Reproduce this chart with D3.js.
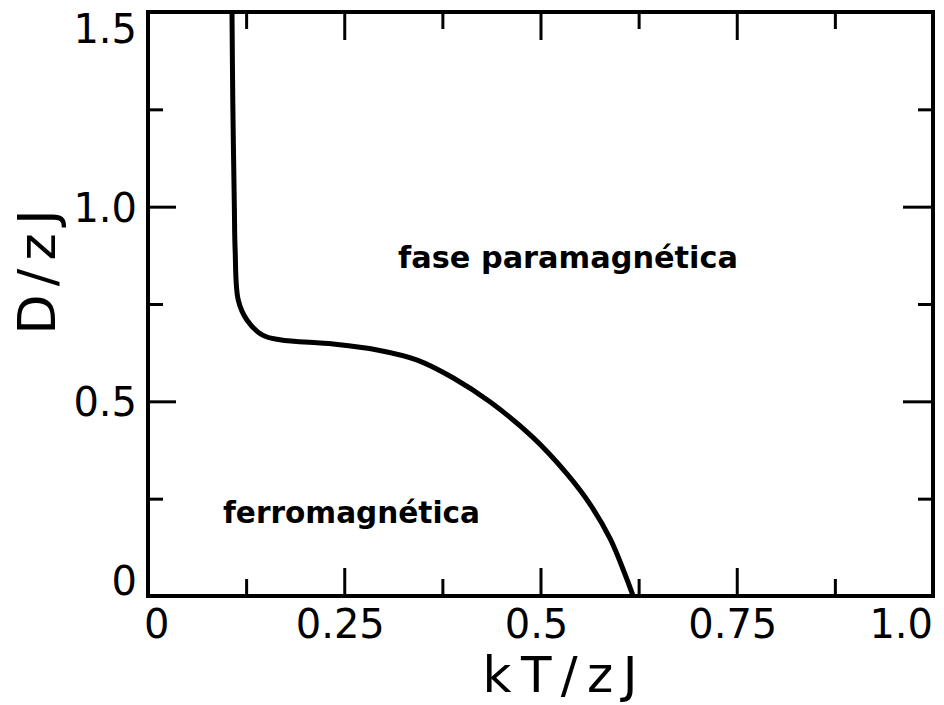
<!DOCTYPE html>
<html>
<head>
<meta charset="utf-8">
<script src="https://cdn.jsdelivr.net/npm/d3@7/dist/d3.min.js"></script>
<style>
  html, body { margin: 0; padding: 0; background: #fff; }
  svg { display: block; }
</style>
</head>
<body>
<div id="chart"></div>
<script>
// tick values and labels
const xMajor = [0, 0.25, 0.5, 0.75, 1.0];
const xLabels = ['0', '0.25', '0.5', '0.75', '1.0'];
const xMinor = [0.125, 0.375, 0.625, 0.875];
const yMajor = [0, 0.5, 1.0, 1.5];
const yLabels = ['0', '0.5', '1.0', '1.5'];
const yMinor = [0.25, 0.75, 1.25];

// phase boundary
const boundaryKT = [0.107, 0.108, 0.110, 0.111, 0.115, 0.126, 0.146, 0.168, 0.236, 0.292, 0.343, 0.389, 0.436, 0.490, 0.534, 0.563, 0.589, 0.608, 0.618];
const boundaryD  = [1.500, 1.274, 1.000, 0.889, 0.760, 0.709, 0.670, 0.658, 0.647, 0.632, 0.606, 0.560, 0.498, 0.408, 0.313, 0.236, 0.146, 0.054, 0.000];

const width = 944, height = 705;
const margin = { top: 12, right: 11, bottom: 109, left: 148 };
const innerW = width - margin.left - margin.right;
const innerH = height - margin.top - margin.bottom;

const svg = d3.select('#chart').append('svg').attr('width', width).attr('height', height);
svg.append('rect').attr('width', width).attr('height', height).attr('fill', '#fff');
const g = svg.append('g').attr('transform', `translate(${margin.left},${margin.top})`);

const x = d3.scaleLinear([0, 1], [0, innerW]);
const y = d3.scaleLinear([0, 1.5], [innerH, 0]);

function ticks(axis, vals, size) {
  return axis.tickValues(vals).tickSize(size).tickFormat('');
}
const tickGroups = [
  [d3.axisBottom(x), `translate(0,${innerH})`, xMajor, -28],
  [d3.axisBottom(x), `translate(0,${innerH})`, xMinor, -17],
  [d3.axisTop(x), 'translate(0,0)', xMajor, -28],
  [d3.axisTop(x), 'translate(0,0)', xMinor, -17],
  [d3.axisLeft(y), 'translate(0,0)', yMajor, -28],
  [d3.axisLeft(y), 'translate(0,0)', yMinor, -15],
  [d3.axisRight(y), `translate(${innerW},0)`, yMajor, -30],
  [d3.axisRight(y), `translate(${innerW},0)`, yMinor, -15],
];
tickGroups.forEach(([axis, tr, vals, size]) => {
  const a = g.append('g').attr('transform', tr).call(ticks(axis, vals, size));
  a.select('.domain').remove();
  a.selectAll('.tick line').attr('stroke', '#000').attr('stroke-width', 3);
});

g.append('rect').attr('width', innerW).attr('height', innerH)
  .attr('fill', 'none').attr('stroke', '#000').attr('stroke-width', 4);

// tick labels
const numFont = '"DejaVu Sans", sans-serif';
g.append('g').selectAll('text').data(xMajor).join('text')
  .attr('x', (d, i) => x(d) + (i === 0 ? -4 : i === xMajor.length - 1 ? 0 : -4))
  .attr('y', innerH + 42)
  .attr('text-anchor', (d, i) => i === 0 ? 'start' : i === xMajor.length - 1 ? 'end' : 'middle')
  .attr('font-family', numFont).attr('font-size', 40).attr('fill', '#000')
  .text((d, i) => xLabels[i]);
g.append('g').selectAll('text').data(yMajor).join('text')
  .attr('x', -11)
  .attr('y', (d, i) => y(d) + (i === 0 ? -1 : i === yMajor.length - 1 ? 31 : 15))
  .attr('text-anchor', 'end')
  .attr('font-family', numFont).attr('font-size', 40).attr('fill', '#000')
  .text((d, i) => yLabels[i]);

// axis titles
svg.append('text').attr('x', 560).attr('y', 692).attr('text-anchor', 'middle')
  .attr('font-family', numFont).attr('font-size', 50).attr('fill', '#000')
  .attr('textLength', 155).attr('lengthAdjust', 'spacing').text('kT/zJ');
svg.append('text').attr('transform', 'translate(55,272) rotate(-90)').attr('text-anchor', 'middle')
  .attr('font-family', numFont).attr('font-size', 52).attr('fill', '#000')
  .attr('textLength', 125).attr('lengthAdjust', 'spacing').text('D/zJ');

// region labels
svg.append('text').attr('x', 398).attr('y', 268)
  .attr('font-family', numFont).attr('font-weight', 'bold').attr('font-size', 30).attr('fill', '#000')
  .attr('textLength', 340).attr('lengthAdjust', 'spacingAndGlyphs').text('fase paramagnética');
svg.append('text').attr('x', 223).attr('y', 523)
  .attr('font-family', numFont).attr('font-weight', 'bold').attr('font-size', 30).attr('fill', '#000')
  .attr('textLength', 257).attr('lengthAdjust', 'spacingAndGlyphs').text('ferromagnética');

// boundary curve
const pts = boundaryKT.map((k, i) => [k, boundaryD[i]]);
const line = d3.line().x((d) => x(d[0])).y((d) => y(d[1])).curve(d3.curveCatmullRom.alpha(0.5));
g.append('path').datum(pts).attr('fill', 'none').attr('stroke', '#000')
  .attr('stroke-width', 5).attr('stroke-linejoin', 'round').attr('d', line);
</script>
</body>
</html>
